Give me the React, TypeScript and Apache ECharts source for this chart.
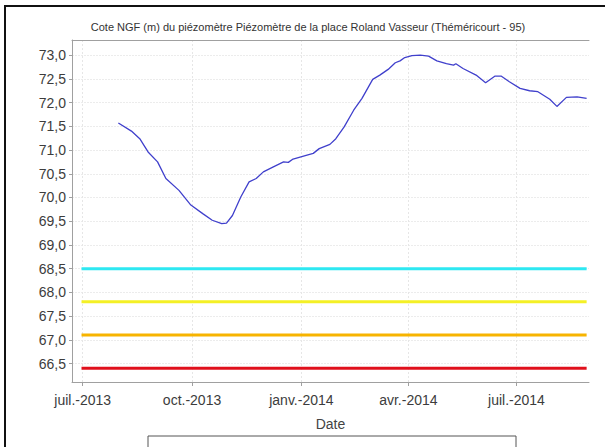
import React, { useEffect, useRef } from "react";
import * as echarts from "echarts";

const titleText =
  "Cote NGF (m) du piézomètre Piézomètre de la place Roland Vasseur (Théméricourt - 95)";

const curveDates = [
  "2013-07-31", "2013-08-11", "2013-08-18", "2013-08-25", "2013-09-02", "2013-09-09",
  "2013-09-20", "2013-09-30", "2013-10-10", "2013-10-18", "2013-10-26", "2013-10-30",
  "2013-11-04", "2013-11-11", "2013-11-18", "2013-11-24", "2013-11-30", "2013-12-08",
  "2013-12-17", "2013-12-21", "2013-12-25", "2014-01-05", "2014-01-11", "2014-01-16",
  "2014-01-25", "2014-01-30", "2014-02-06", "2014-02-14", "2014-02-21", "2014-03-02",
  "2014-03-08", "2014-03-15", "2014-03-21", "2014-03-25", "2014-03-29", "2014-04-04",
  "2014-04-11", "2014-04-18", "2014-04-25", "2014-05-03", "2014-05-09", "2014-05-11",
  "2014-05-17", "2014-05-28", "2014-06-05", "2014-06-13", "2014-06-18", "2014-06-25",
  "2014-07-04", "2014-07-12", "2014-07-19", "2014-07-29", "2014-08-04", "2014-08-12",
  "2014-08-21", "2014-08-29",
];
const curveValues = [
  71.57, 71.40, 71.24, 70.96, 70.75, 70.40,
  70.15, 69.84, 69.66, 69.52, 69.45, 69.46,
  69.62, 70.01, 70.33, 70.40, 70.54, 70.64,
  70.75, 70.74, 70.81, 70.89, 70.93, 71.03,
  71.12, 71.24, 71.49, 71.84, 72.09, 72.49,
  72.58, 72.70, 72.84, 72.88, 72.95, 72.99,
  73.00, 72.98, 72.88, 72.82, 72.79, 72.82,
  72.72, 72.58, 72.42, 72.56, 72.56, 72.44,
  72.30, 72.25, 72.23, 72.07, 71.92, 72.11,
  72.12, 72.09,
];

const thresholdStart = "2013-06-30";
const thresholdEnd = "2014-08-29";
const thresholdValues = [68.5, 67.8, 67.1, 66.4];
const thresholdColors = ["#2ee8f2", "#f4f026", "#f7b400", "#e0101c"];

const xMin = "2013-06-22";
const xMax = "2014-08-31";
const xTickDates = ["2013-07-01", "2013-10-01", "2014-01-01", "2014-04-01", "2014-07-01"];
const xTickLabels = ["juil.-2013", "oct.-2013", "janv.-2014", "avr.-2014", "juil.-2014"];

const yMin = 66.11;
const yMax = 73.32;
const yTicks = [66.5, 67, 67.5, 68, 68.5, 69, 69.5, 70, 70.5, 71, 71.5, 72, 72.5, 73];

const FONT = "'Liberation Sans', Arial, sans-serif";

function toTs(s: string) {
  const [y, m, d] = s.split("-").map(Number);
  return Date.UTC(y, m - 1, d);
}

export default function App() {
  const ref = useRef<HTMLDivElement>(null);
  useEffect(() => {
    if (!ref.current) return;
    const chart = echarts.init(ref.current, null, { renderer: "svg" });
    const tickTs = xTickDates.map(toTs);
    const series: any[] = [];
    thresholdValues.forEach((v, i) => {
      series.push({
        type: "line",
        data: [
          [toTs(thresholdStart), v],
          [toTs(thresholdEnd), v],
        ],
        showSymbol: false,
        lineStyle: { color: thresholdColors[i], width: 3 },
        itemStyle: { color: thresholdColors[i] },
        z: 3,
      });
    });
    series.push({
      type: "line",
      data: curveDates.map((d, i) => [toTs(d), curveValues[i]]),
      showSymbol: false,
      lineStyle: { color: "#4040cc", width: 1.3 },
      itemStyle: { color: "#4040cc" },
      z: 4,
    });
    chart.setOption({
      animation: false,
      backgroundColor: "#ffffff",
      textStyle: { fontFamily: FONT },
      title: {
        text: titleText,
        left: 303,
        textAlign: "center",
        top: 16,
        textStyle: { fontSize: 11, fontWeight: "normal", color: "#333", fontFamily: FONT },
      },
      grid: { left: 72, top: 40, right: 16, bottom: 65, containLabel: false },
      xAxis: [
        {
          type: "value",
          min: toTs(xMin),
          max: toTs(xMax),
          name: "Date",
          nameLocation: "middle",
          nameGap: 35,
          nameTextStyle: { fontSize: 14, color: "#444", fontFamily: FONT },
          axisLine: { show: true, lineStyle: { color: "#a0a0a0", width: 1 } },
          axisTick: {
            show: true,
            customValues: tickTs,
            length: 4,
            lineStyle: { color: "#a0a0a0" },
          },
          axisLabel: {
            customValues: tickTs,
            fontSize: 14,
            color: "#3c3c3c",
            margin: 11,
            fontFamily: FONT,
            formatter: (val: number) => {
              let best = 0;
              let bd = Infinity;
              tickTs.forEach((t, i) => {
                const dd = Math.abs(t - val);
                if (dd < bd) {
                  bd = dd;
                  best = i;
                }
              });
              return xTickLabels[best];
            },
          },
          splitLine: {
            show: true,
            lineStyle: { color: "#e6e6e6", type: [2, 2], width: 1 },
          },
        },
        {
          type: "value",
          position: "top",
          min: toTs(xMin),
          max: toTs(xMax),
          axisLine: { show: true, lineStyle: { color: "#a0a0a0", width: 1 } },
          axisTick: { show: false },
          axisLabel: { show: false },
          splitLine: { show: false },
        },
      ],
      yAxis: {
        type: "value",
        min: yMin,
        max: yMax,
        axisLine: { show: true, lineStyle: { color: "#a0a0a0", width: 1 } },
        axisTick: {
          show: true,
          customValues: yTicks,
          length: 3,
          lineStyle: { color: "#a0a0a0" },
        },
        axisLabel: {
          customValues: yTicks,
          fontSize: 14,
          color: "#3c3c3c",
          margin: 6,
          fontFamily: FONT,
          formatter: (v: number) => v.toFixed(1).replace(".", ","),
        },
        splitLine: {
          show: true,
          lineStyle: { color: "#ececec", type: [2, 1], width: 1 },
        },
      },
      graphic: [
        { type: "rect", shape: { x: 4, y: 5, width: 601, height: 2 }, style: { fill: "#111" } },
        { type: "rect", shape: { x: 4, y: 5, width: 2, height: 442 }, style: { fill: "#111" } },
        {
          type: "rect",
          shape: { x: 148, y: 436, width: 368, height: 20 },
          style: { fill: "#fff", stroke: "#555", lineWidth: 1 },
        },
      ],
      series,
    });
    return () => chart.dispose();
  }, []);
  return (
    <div
      ref={ref}
      style={{ position: "fixed", left: 0, top: 0, width: 605, height: 447 }}
    />
  );
}
